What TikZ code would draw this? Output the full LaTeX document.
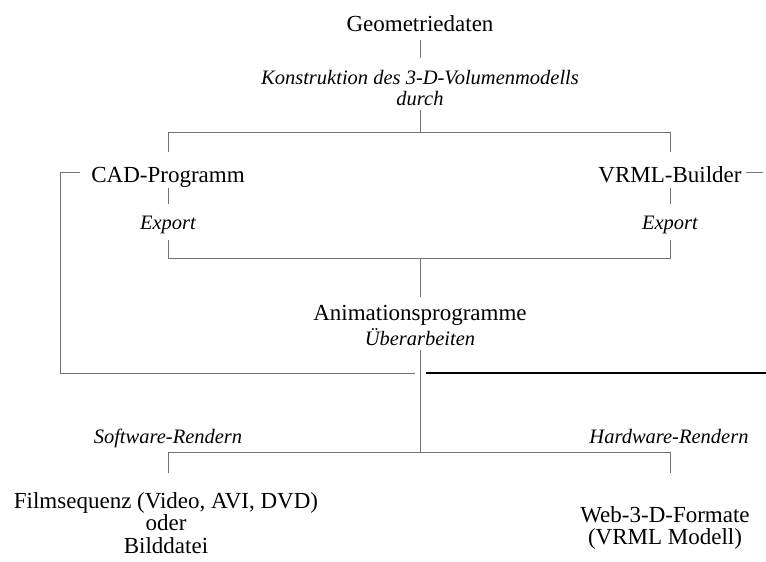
\documentclass[tikz,border=0pt]{standalone}
\usepackage{fontspec}
\setmainfont{Liberation Serif}
\begin{document}
\begin{tikzpicture}[x=1pt,y=-1pt,
  up/.style={inner sep=0pt,font=\fontsize{23}{22.5}\selectfont,align=center},
  it/.style={inner sep=0pt,font=\fontsize{20.5}{21.5}\selectfont\itshape,align=center},
  conn/.style={draw=black!55,line width=0.8pt},
  strong/.style={draw=black,line width=1.3pt}]
\useasboundingbox (0,0) rectangle (766,562);
% texts
\node[up,anchor=base] (geo) at (420,31) {Geometriedaten};
\node[it,anchor=north] (kon) at (420,70) {Konstruktion des 3-D-Volumenmodells\\durch};
\node[up,anchor=base] (cad) at (168,182) {CAD-Programm};
\node[up,anchor=base] (vrml) at (670,182) {VRML-Builder};
\node[it,anchor=base] (exl) at (168,229) {Export};
\node[it,anchor=base] (exr) at (670,229) {Export};
\node[up,anchor=base] (ani) at (420,320) {Animationsprogramme};
\node[it,anchor=base] (ueb) at (420,345) {Überarbeiten};
\node[it,anchor=base] (sw) at (168,443) {Software-Rendern};
\node[it,anchor=base] (hw) at (669,443) {Hardware-Rendern};
\node[up,anchor=north] (film) at (166,492) {Filmsequenz (Video, AVI, DVD)\\oder\\Bilddatei};
\node[up,anchor=north] (web) at (665,506) {Web-3-D-Formate\\(VRML Modell)};
% junction coordinates
\coordinate (geoB) at (420,40);
\coordinate (geoE) at (420,58);
\coordinate (konB) at (420,110);
\coordinate (j1) at (420,132);
\coordinate (j1l) at (168,132);
\coordinate (j1r) at (670,132);
\coordinate (cadT) at (168,152);
\coordinate (vrmlT) at (670,152);
\coordinate (cadB) at (168,188);
\coordinate (vrmlB) at (670,188);
\coordinate (exlT) at (168,204);
\coordinate (exrT) at (670,204);
\coordinate (exlB) at (168,240);
\coordinate (exrB) at (670,240);
\coordinate (j2l) at (168,258);
\coordinate (j2r) at (670,258);
\coordinate (j2) at (420,258);
\coordinate (aniT) at (420,297);
\coordinate (uebB) at (420,350);
\coordinate (j3) at (420,452);
\coordinate (j3l) at (168,452);
\coordinate (j3r) at (670,452);
\coordinate (swB) at (168,473);
\coordinate (hwB) at (670,473);
\coordinate (cadL) at (80,172);
\coordinate (lc) at (60,172);
\coordinate (lb) at (60,373);
\coordinate (le) at (415,373);
\coordinate (vrmlR) at (746,172);
\coordinate (vrmlRE) at (763,172);
\coordinate (rs) at (426,373);
\coordinate (re) at (766,373);
% connectors
\draw[conn] (geoB) -- (geoE);
\draw[conn] (konB) -- (j1);
\draw[conn] (cadT) -- (j1l) -- (j1r) -- (vrmlT);
\draw[conn] (cadB) -- (exlT);
\draw[conn] (vrmlB) -- (exrT);
\draw[conn] (exlB) -- (j2l) -- (j2r) -- (exrB);
\draw[conn] (j2) -- (aniT);
\draw[conn] (uebB) -- (j3);
\draw[conn] (swB) -- (j3l) -- (j3r) -- (hwB);
\draw[conn] (cadL) -- (lc) -- (lb) -- (le);
\draw[conn] (vrmlR) -- (vrmlRE);
\draw[strong] (rs) -- (re);
\end{tikzpicture}
\end{document}
